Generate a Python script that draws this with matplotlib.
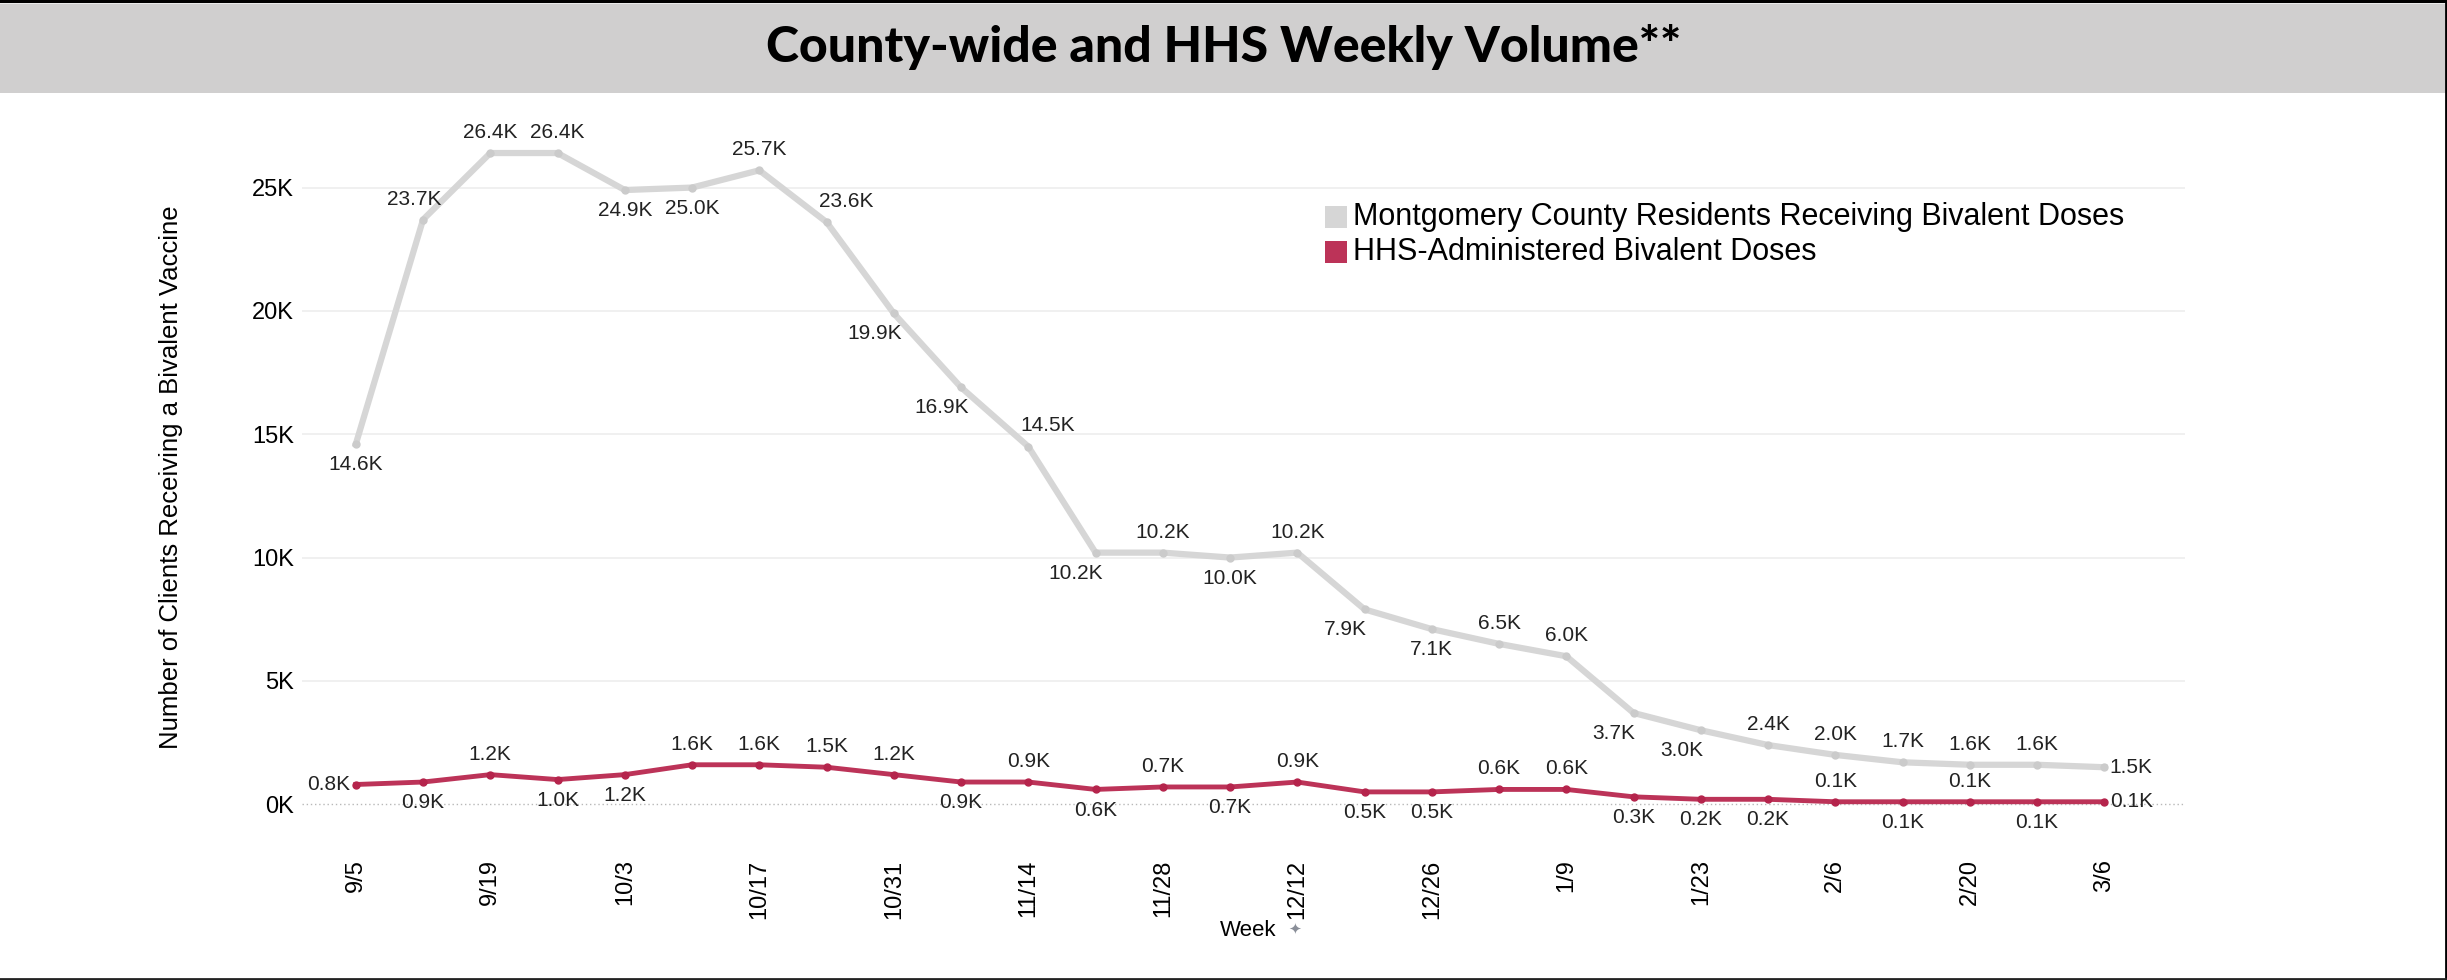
import matplotlib
matplotlib.use('Agg')
import matplotlib.pyplot as plt
from matplotlib.patches import Rectangle
from matplotlib.lines import Line2D

# Weekly data (thousands)
weeks = ['9/5', '9/12', '9/19', '9/26', '10/3', '10/10', '10/17', '10/24', '10/31',
         '11/7', '11/14', '11/21', '11/28', '12/5', '12/12', '12/19', '12/26', '1/2',
         '1/9', '1/16', '1/23', '1/30', '2/6', '2/13', '2/20', '2/27', '3/6']
county = [14.6, 23.7, 26.4, 26.4, 24.9, 25.0, 25.7, 23.6, 19.9, 16.9, 14.5, 10.2, 10.2,
          10.0, 10.2, 7.9, 7.1, 6.5, 6.0, 3.7, 3.0, 2.4, 2.0, 1.7, 1.6, 1.6, 1.5]
hhs = [0.8, 0.9, 1.2, 1.0, 1.2, 1.6, 1.6, 1.5, 1.2, 0.9, 0.9, 0.6, 0.7, 0.7, 0.9, 0.5,
       0.5, 0.6, 0.6, 0.3, 0.2, 0.2, 0.1, 0.1, 0.1, 0.1, 0.1]
yticks = [0, 5, 10, 15, 20, 25]

# label placement for each point
county_pos = ['b', 'al', 'a', 'a', 'b', 'b', 'a', 'ar', 'bl', 'bl', 'ar', 'bl', 'a', 'b',
              'a', 'bl', 'b', 'a', 'a', 'bl', 'bl', 'a', 'a', 'a', 'a', 'a', 'r']
hhs_pos = ['l', 'b', 'a', 'b', 'b', 'a', 'a', 'a', 'a', 'b', 'a', 'b', 'a', 'b', 'a', 'b',
           'b', 'a', 'a', 'b', 'b', 'b', 'a', 'b', 'a', 'b', 'r']

GRAY = '#d6d6d6'
GRAY_DOT = '#cbcbcb'
RED = '#bc3358'
RED_DOT = '#b5244c'
NUM_FONT = ['Liberation Sans', 'DejaVu Sans']

offsets = {
    'a': ((0, 8), 'center', 'bottom'),
    'b': ((0, -8), 'center', 'top'),
    'al': ((-6, 8), 'center', 'bottom'),
    'ar': ((14, 8), 'center', 'bottom'),
    'bl': ((-14, -8), 'center', 'top'),
    'l': ((-4, 0), 'right', 'center'),
    'r': ((4, 0), 'left', 'center'),
}

fig = plt.figure(figsize=(24.47, 9.8), dpi=100)

# title band
fig.patches.append(Rectangle((0, 1 - 93 / 980), 1, 89 / 980, transform=fig.transFigure,
                             facecolor='#d0cfcf', edgecolor='none', zorder=0))
fig.text(0.5, 1 - 47 / 980, 'County-wide and HHS Weekly Volume**', ha='center', va='center',
         fontsize=36, fontweight='black', family=['Lato', 'DejaVu Sans'])
# frame lines (top, right, bottom)
fig.lines.append(Line2D([0, 1], [1 - 1.5 / 980] * 2, transform=fig.transFigure,
                        color='black', linewidth=3))
fig.lines.append(Line2D([1 - 1.5 / 2447] * 2, [0, 1], transform=fig.transFigure,
                        color='black', linewidth=2))
fig.lines.append(Line2D([0, 1], [1 / 980] * 2, transform=fig.transFigure,
                        color='#222222', linewidth=2))

ax = fig.add_axes([302 / 2447, 1 - 840 / 980, (2185 - 302) / 2447, (840 - 100) / 980])
x = list(range(len(weeks)))

ax.plot(x, county, color=GRAY, linewidth=4.5, solid_joinstyle='round', zorder=2)
ax.plot(x, county, 'o', color=GRAY_DOT, markersize=5, zorder=3)
ax.plot(x, hhs, color=RED, linewidth=3.5, solid_joinstyle='round', zorder=2)
ax.plot(x, hhs, 'o', color=RED_DOT, markersize=5, zorder=3)

for xs, ys, pos in [(x, county, county_pos), (x, hhs, hhs_pos)]:
    for xi, yi, p in zip(xs, ys, pos):
        off, ha, va = offsets[p]
        ax.annotate(f'{yi:.1f}K', (xi, yi), xytext=off, textcoords='offset points',
                    ha=ha, va=va, fontsize=15, family=NUM_FONT, color='#222222', zorder=4)

ax.set_xlim(-0.8, 27.2)
ax.set_ylim(-1.45, 28.55)
ax.set_yticks(yticks)
ax.set_yticklabels([f'{v}K' for v in yticks], fontsize=17, family=NUM_FONT)
for v in yticks[1:]:
    ax.axhline(v, color='#ededed', linewidth=1.2, zorder=1)
ax.axhline(0, color='#b8b8b8', linewidth=1, linestyle=(0, (1, 2)), zorder=1)

ax.set_xticks(x[::2])
ax.set_xticklabels(weeks[::2], rotation=90, fontsize=17, family=NUM_FONT)
ax.tick_params(axis='both', length=0)
ax.tick_params(axis='x', pad=14)
ax.tick_params(axis='y', pad=6)
for s in ax.spines.values():
    s.set_visible(False)

ax.set_ylabel('Number of Clients Receiving a Bivalent Vaccine', fontsize=18.5,
              family=NUM_FONT)
ax.yaxis.set_label_coords((183 - 302) / 1883, 0.49)
fig.text(1248 / 2447, 1 - 930 / 980, 'Week', ha='center', va='center', fontsize=16,
         family=NUM_FONT)
# small pin glyph next to the axis title
fig.text(1295 / 2447, 1 - 929 / 980, '\u2726', ha='center', va='center', fontsize=11,
         color='#8a8f99', family=['DejaVu Sans'])

# legend
lx, ly = 1325 / 2447, 1 - 217 / 980
for i, (lab, col) in enumerate([('Montgomery County Residents Receiving Bivalent Doses', GRAY),
                                ('HHS-Administered Bivalent Doses', RED)]):
    yy = ly - i * 35 / 980
    fig.patches.append(Rectangle((lx, yy - 11 / 980), 22 / 2447, 22 / 980,
                                 transform=fig.transFigure, facecolor=col, edgecolor='none'))
    fig.text(lx + 28 / 2447, yy, lab, ha='left', va='center', fontsize=22, family=NUM_FONT)

fig.savefig('out.png', dpi=100)
